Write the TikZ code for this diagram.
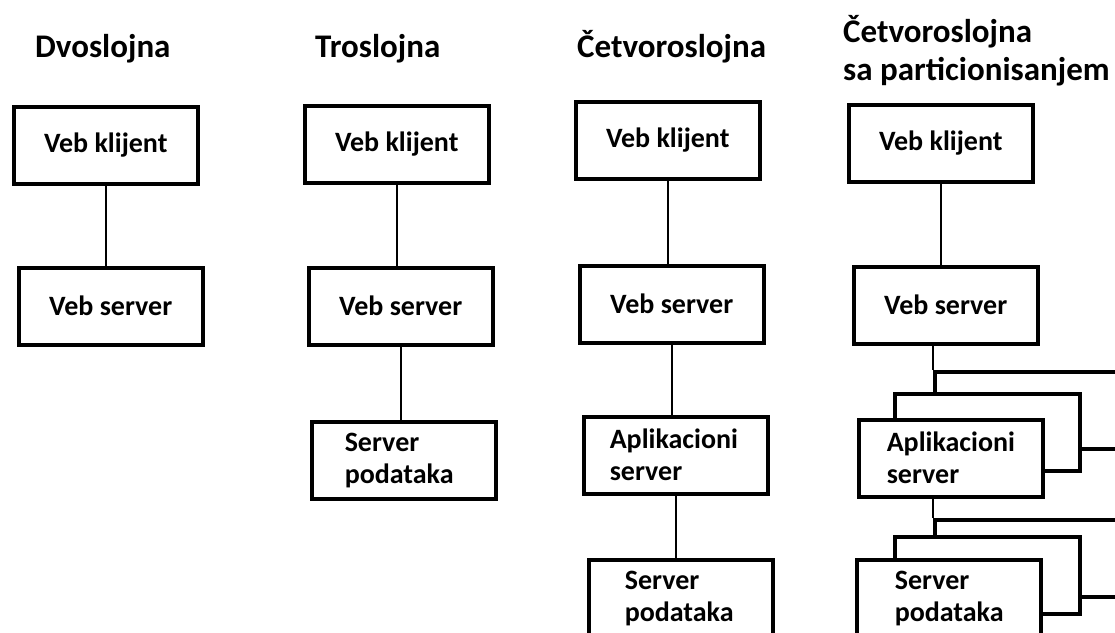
\documentclass[tikz,border=0pt]{standalone}
\usepackage{fontspec}
\setmainfont{Carlito}
\tikzset{
  box/.style={draw, line width=3.5pt, fill=white, anchor=north west, inner sep=0pt,
    minimum width=184pt, minimum height=77pt, font=\fontsize{28}{32}\selectfont\bfseries},
  layer/.style={draw, line width=3.5pt, fill=white, anchor=north west, inner sep=0pt,
    minimum width=#1, minimum height=77pt},
  title/.style={anchor=base west, inner sep=0pt, font=\fontsize{33}{38}\selectfont\bfseries},
  link/.style={line width=2pt}
}
\begin{document}
\begin{tikzpicture}[x=1pt,y=-1pt]
\useasboundingbox (0,0) rectangle (1115,632);
\clip (0,0) rectangle (1115,632);

\node[title] (t1) at (35,57) {Dvoslojna};
\node[title] (t2) at (315,57) {Troslojna};
\node[title] (t3) at (577,57) {Četvoroslojna};
\node[title] (t4) at (843,42) {Četvoroslojna};
\node[title] (t4b) at (843,80) {sa particionisanjem};

\node[box] (vk1) at (12,105) {Veb klijent};
\node[box] (vs1) at (17,266) {Veb server};

\node[box] (vk2) at (303,104) {Veb klijent};
\node[box] (vs2) at (307,266) {Veb server};
\node[box, align=left, inner xsep=33pt, text width=118pt, yshift=-4pt] (sp2) at (310,416) {Server\\podataka};

\node[box] (vk3) at (574,100) {Veb klijent};
\node[box] (vs3) at (578,264) {Veb server};
\node[box, align=left, inner xsep=26pt, text width=132pt, yshift=-3pt] (apl3) at (582,412) {Aplikacioni\\server};
\node[box, align=left, inner xsep=36pt, text width=112pt] (sp3) at (587,558) {Server\\podataka};

\node[box] (vk4) at (847,103) {Veb klijent};
\node[box] (vs4) at (852,265) {Veb server};
\node[layer=200pt] (apl4c) at (933,370) {};
\node[layer=185pt] (apl4b) at (893,392) {};
\node[box, align=left, inner xsep=28pt, text width=128pt, yshift=-3pt] (apl4) at (857,415) {Aplikacioni\\server};
\node[layer=200pt] (sp4c) at (933,518) {};
\node[layer=185pt] (sp4b) at (893,535) {};
\node[box, align=left, inner xsep=38pt, text width=108pt] (sp4) at (855,558) {Server\\podataka};

\path[draw,link] (vk1.south) -- (vk1.south |- vs1.north);
\path[draw,link] (vk2.south) -- (vk2.south |- vs2.north);
\path[draw,link] (vs2.south) -- (vs2.south |- sp2.north);
\path[draw,link] (vk3.south) -- (vk3.south |- vs3.north);
\path[draw,link] (vs3.south) -- (vs3.south |- apl3.north);
\path[draw,link] (apl3.south) -- (apl3.south |- sp3.north);
\path[draw,link] (vk4.south) -- (vk4.south |- vs4.north);
\path[draw,link] (apl4c.north west |- vs4.south) -- (apl4c.north west);
\path[draw,link] (sp4c.north west |- apl4.south) -- (sp4c.north west);
\end{tikzpicture}
\end{document}
